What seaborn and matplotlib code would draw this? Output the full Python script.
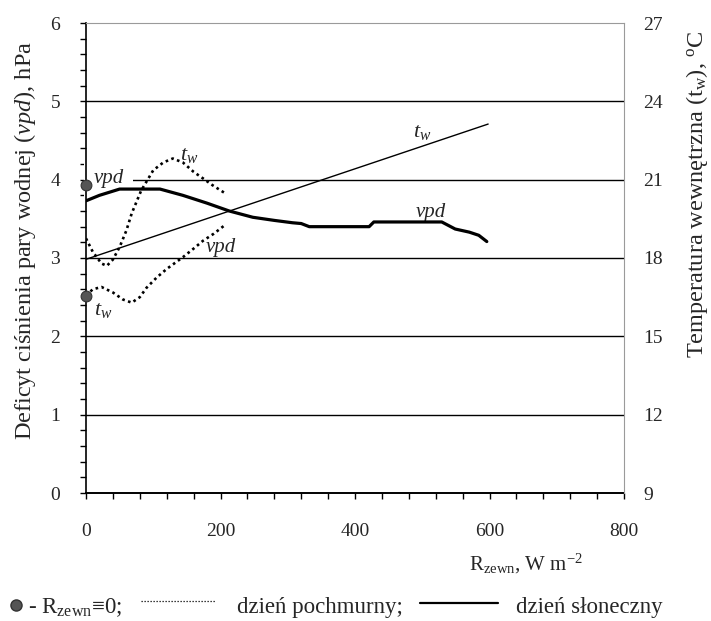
import numpy as np
import pandas as pd
import matplotlib
matplotlib.use("Agg")
import matplotlib.pyplot as plt
from matplotlib.lines import Line2D
from matplotlib.ticker import MultipleLocator
import seaborn as sns

# ---------------- data ----------------
# sunny day: vapour pressure deficit (hPa) vs outside radiation (W m-2)
r_sun_vpd = [0, 20, 50, 80, 110, 144, 180, 213, 248, 280, 307, 320, 332, 380, 421, 428, 480, 529, 549, 570, 584, 596]
vpd_sun = [3.73, 3.80, 3.88, 3.88, 3.88, 3.80, 3.70, 3.60, 3.52, 3.48, 3.45, 3.44, 3.40, 3.40, 3.40, 3.46, 3.46, 3.46, 3.37, 3.33, 3.29, 3.21]
# sunny day: inside temperature (deg C)
r_sun_tw = [0, 300, 598]
tw_sun = [17.95, 20.55, 23.13]
# cloudy day: inside temperature (deg C)
r_cloud_tw = [0, 10, 23, 31, 40, 50, 60, 68, 82, 100, 115, 129, 144, 160, 175, 188, 208]
tw_cloud = [18.75, 18.24, 17.79, 17.70, 17.94, 18.42, 19.05, 19.71, 20.58, 21.36, 21.66, 21.81, 21.66, 21.30, 21.03, 20.79, 20.46]
# cloudy day: vapour pressure deficit (hPa)
r_cloud_vpd = [0, 10, 23, 40, 55, 68, 80, 90, 105, 120, 144, 160, 174, 190, 205]
vpd_cloud = [2.52, 2.60, 2.63, 2.56, 2.47, 2.43, 2.50, 2.62, 2.75, 2.86, 3.01, 3.12, 3.22, 3.31, 3.41]
# points for R_zewn = 0
r_zero = [0]
vpd_zero = [3.93]
tw_zero = [16.56]

# axis ticks
x_ticks = [0, 200, 400, 600, 800]
vpd_ticks = [0, 1, 2, 3, 4, 5, 6]
tw_ticks = [9, 12, 15, 18, 21, 24, 27]

# ---------------- style ----------------
sns.set_style("ticks")
plt.rcParams['font.family'] = ['Liberation Serif', 'DejaVu Serif']
plt.rcParams['mathtext.fontset'] = 'custom'
plt.rcParams['mathtext.rm'] = 'Liberation Serif'
plt.rcParams['mathtext.it'] = 'Liberation Serif:italic'
plt.rcParams['mathtext.bf'] = 'Liberation Serif:bold'

W, H = 711, 621
fig = plt.figure(figsize=(W / 100, H / 100), dpi=100)
L, R, B, T = 86, 624, 493, 23
ax = fig.add_axes([L / W, 1 - B / H, (R - L) / W, (B - T) / H])
ax2 = ax.twinx()

ax.set_xlim(0, 800)
ax.set_ylim(0, 6)
ax2.set_ylim(9, 27)

# horizontal grid lines
for lev in vpd_ticks[1:-1]:
    ax.axhline(lev, color='black', lw=1.0, zorder=1)

dot_style = (0, (1.0, 1.3))

# vpd curves on left axis
sns.lineplot(x=r_sun_vpd, y=vpd_sun, ax=ax, color='black', lw=2.3,
             estimator=None, sort=False, zorder=4)
sns.lineplot(x=r_cloud_vpd, y=vpd_cloud, ax=ax, color='black', lw=1.9,
             linestyle=dot_style, estimator=None, sort=False, zorder=4)
sns.scatterplot(x=r_zero, y=vpd_zero, ax=ax, s=60, color='#555555',
                edgecolor='#333333', linewidth=0.8, zorder=6, clip_on=False)

# temperature curves on right axis
sns.lineplot(x=r_sun_tw, y=tw_sun, ax=ax2, color='black', lw=1.0,
             estimator=None, sort=False, zorder=4)
sns.lineplot(x=r_cloud_tw, y=tw_cloud, ax=ax2, color='black', lw=1.9,
             linestyle=dot_style, estimator=None, sort=False, zorder=4)
sns.scatterplot(x=r_zero, y=tw_zero, ax=ax2, s=60, color='#555555',
                edgecolor='#333333', linewidth=0.8, zorder=6, clip_on=False)

# curve labels
lab_kw = dict(fontsize=15, style='italic', ha='center', va='center')
ax.text(34, 4.02, 'vpd', zorder=2,
        bbox=dict(boxstyle='square,pad=0.45', fc='white', ec='none'), **lab_kw)
ax.text(154, 4.31, r'$t_w$', fontsize=16, ha='center', va='center')
ax.text(200, 3.13, 'vpd', **lab_kw)
ax.text(26, 2.33, r'$t_w$', fontsize=16, ha='center', va='center')
ax.text(500, 4.60, r'$t_w$', fontsize=16, ha='center', va='center')
ax.text(513, 3.58, 'vpd', **lab_kw)

# ticks
ax.set_xticks(x_ticks)
ax.set_yticks(vpd_ticks)
ax2.set_yticks(tw_ticks)
ax.xaxis.set_minor_locator(MultipleLocator(40))
ax.yaxis.set_minor_locator(MultipleLocator(0.2))
ax.tick_params(axis='both', which='both', direction='out', length=4.5,
               width=1.0, color='black', labelsize=14, top=False, right=False)
ax.tick_params(axis='x', which='both', pad=17)
ax.tick_params(axis='y', which='both', pad=14)
ax2.tick_params(axis='y', which='both', length=0, labelsize=14, pad=14)
ax2.yaxis.set_minor_locator(plt.NullLocator())

# spines
ax.spines['left'].set_color('black')
ax.spines['left'].set_linewidth(1.2)
ax.spines['bottom'].set_color('black')
ax.spines['bottom'].set_linewidth(1.4)
ax.spines['top'].set_visible(True)
ax.spines['top'].set_color('#9a9a9a')
ax.spines['top'].set_linewidth(0.8)
ax.spines['right'].set_visible(False)
for s in ['top', 'left', 'bottom']:
    ax2.spines[s].set_visible(False)
ax2.spines['right'].set_visible(True)
ax2.spines['right'].set_color('#9a9a9a')
ax2.spines['right'].set_linewidth(0.8)

# axis labels
ax.set_xlabel(r'R$_{\mathrm{zewn}}$, W m$^{\mathrm{-2}}$', fontsize=15)
ax.xaxis.set_label_coords((526 - L) / (R - L), (B - 552) / (B - T))
ax.set_ylabel(r'Deficyt ciśnienia pary wodnej ($\mathit{vpd}$), hPa', fontsize=17.5)
ax.yaxis.set_label_coords((38 - L) / (R - L), (B - 240) / (B - T))
ax2.set_ylabel(r'Temperatura wewnętrzna (t$_{\mathrm{w}}$), $^{\mathrm{o}}$C', fontsize=17.5)
ax2.yaxis.set_label_coords((684 - L) / (R - L), (B - 194) / (B - T))

# legend row drawn as figure artists
def fx(px):
    return px / W

def fy(py):
    return 1 - py / H

fig.add_artist(Line2D([fx(16)], [fy(605)], marker='o', markersize=8,
                      color='#555555', markeredgecolor='#333333', ls='none'))
fig.text(fx(28), fy(613), r'- R$_{\mathrm{zewn}}$≡0;', fontsize=16.5, va='baseline', ha='left')
fig.add_artist(Line2D([fx(141), fx(215)], [fy(601), fy(601)], color='black',
                      lw=0.9, linestyle=(0, (1, 1.4))))
fig.text(fx(237), fy(613), 'dzień pochmurny;', fontsize=16.5, va='baseline', ha='left')
fig.add_artist(Line2D([fx(420), fx(498)], [fy(603), fy(603)], color='black', lw=1.6))
fig.text(fx(516), fy(613), 'dzień słoneczny', fontsize=16.5, va='baseline', ha='left')

fig.savefig('out.png', dpi=100)
